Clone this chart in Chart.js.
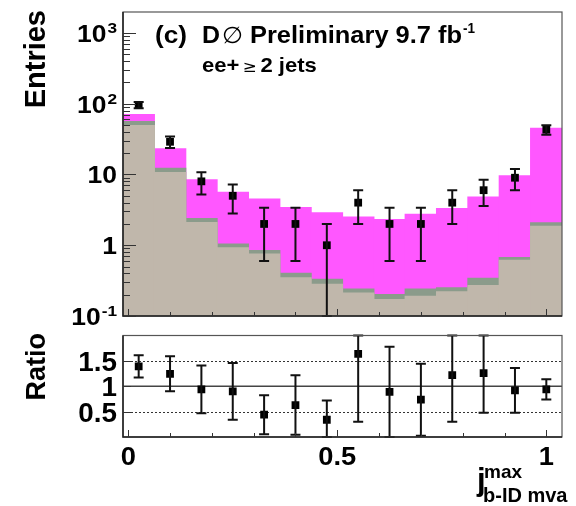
<!DOCTYPE html>
<html>
<head>
<meta charset="utf-8">
<script src="https://cdn.jsdelivr.net/npm/chart.js@4/dist/chart.umd.min.js"></script>
<style>
html, body { margin: 0; padding: 0; background: #fff; }
#wrap { position: relative; width: 576px; height: 506px; }
#topPad { position: absolute; left: 0; top: 0; width: 576px; height: 330px; }
#botPad { position: absolute; left: 0; top: 330px; width: 576px; height: 176px; }
</style>
</head>
<body>
<div id="wrap">
  <div id="topPad"><canvas id="mainChart"></canvas></div>
  <div id="botPad"><canvas id="ratioChart"></canvas></div>
</div>
<script>
// bin centres of j^max_{b-ID mva}, 14 bins of width 0.075
const binCenters = [0.025, 0.1, 0.175, 0.25, 0.325, 0.4, 0.475, 0.55, 0.625, 0.7, 0.775, 0.85, 0.925, 1.0];

// MC stack, entries per bin (beige bottom, grey-green band, magenta signal on top)
const bkgMain  = [49, 10.6, 2.09, 0.92, 0.75, 0.345, 0.28, 0.21, 0.17, 0.19, 0.22, 0.27, 0.61, 1.85];
const bkgOther = [6.7, 1.6, 0.29, 0.12, 0.09, 0.055, 0.05, 0.03, 0.03, 0.05, 0.03, 0.07, 0.06, 0.22];
const signal   = [14.3, 10.8, 6.0, 4.56, 3.66, 3.0, 2.55, 2.26, 2.1, 2.49, 3.05, 4.46, 8.93, 42.9];

// data points and their errors
const dataCounts = [96, 29, 8, 5, 2, 2, 1, 4, 2, 2, 4, 6, 9, 43];
const dataErr    = [9.8, 5.4, 2.8, 2.2, 1.4, 1.4, 1.0, 2.0, 1.4, 1.4, 2.0, 2.4, 3.0, 6.5];

// data / MC ratio
const ratioVals = [1.39, 1.245, 0.94, 0.90, 0.44, 0.63, 0.34, 1.64, 0.89, 0.735, 1.22, 1.26, 0.92, 0.94];
const ratioErr  = [0.22, 0.345, 0.47, 0.56, 0.385, 0.585, 0.38, 1.34, 0.89, 0.71, 0.92, 0.78, 0.44, 0.20];

// axis ticks and labels
const yTickValues = [0.1, 1, 10, 100, 1000];
const yTickLabels = [['10', '-1'], ['1', ''], ['10', ''], ['10', '2'], ['10', '3']];
const xTickValues = [0, 0.5, 1];
const xTickLabels = ['0', '0.5', '1'];
const ratioTickValues = [0.5, 1, 1.5];
const ratioTickLabels = ['0.5', '1', '1.5'];

const X_MIN = -0.0125, X_MAX = 1.0375;
const Y_MIN = 0.1, Y_MAX = 1980;

const colBeige = '#c0b7ab';
const colGreen = '#8b9b8b';
const colMagenta = '#ff57ff';
const FONT = '"Liberation Sans", Arial, Helvetica, sans-serif';

// cumulative stack heights
const stackBeige = bkgMain.slice();
const stackGreen = bkgMain.map((v, i) => v + bkgOther[i]);
const stackTotal = stackGreen.map((v, i) => v + signal[i]);

function toXY(values) {
    return values.map((v, i) => ({ x: binCenters[i], y: v }));
}

// text helpers
function scaledText(ctx, str, x, y, font, align, sx) {
    ctx.save();
    ctx.font = font;
    ctx.textAlign = align;
    ctx.textBaseline = 'alphabetic';
    ctx.translate(x, y);
    ctx.scale(sx, 1);
    ctx.fillText(str, 0, 0);
    ctx.restore();
}

function fitText(ctx, str, x0, x1, y, font) {
    ctx.save();
    ctx.font = font;
    const w = ctx.measureText(str).width;
    ctx.translate(x0, y);
    ctx.scale((x1 - x0) / w, 1);
    ctx.textAlign = 'left';
    ctx.textBaseline = 'alphabetic';
    ctx.fillText(str, 0, 0);
    ctx.restore();
}

// draws pieces one after another, returns the end x
function textRun(ctx, pieces, x, y, sx) {
    pieces.forEach(([str, font, gap]) => {
        ctx.save();
        ctx.font = font;
        const w = ctx.measureText(str).width * sx;
        ctx.restore();
        scaledText(ctx, str, x, y, font, 'left', sx);
        x += w + (gap || 0);
    });
    return x;
}

function powerLabel(ctx, base, exp, xRight, y) {
    const sx = 1.15;
    const fBase = 'bold 23px ' + FONT;
    const fExp = 'bold 15px ' + FONT;
    ctx.save();
    ctx.font = fBase;
    const wb = ctx.measureText(base).width * sx;
    ctx.font = fExp;
    const we = exp ? ctx.measureText(exp).width * sx + 1 : 0;
    ctx.restore();
    const x0 = xRight - wb - we;
    scaledText(ctx, base, x0, y, fBase, 'left', sx);
    if (exp) scaledText(ctx, exp, x0 + wb + 1, y - 9, fExp, 'left', sx);
}

function errorBars(ctx, xScale, yScale, vals, errs, lo, hi, area) {
    ctx.save();
    ctx.strokeStyle = '#111';
    ctx.lineWidth = 2;
    vals.forEach((v, i) => {
        const x = xScale.getPixelForValue(binCenters[i]);
        const yTop = yScale.getPixelForValue(Math.min(v + errs[i], hi));
        const low = v - errs[i];
        const yBot = low <= lo ? area.bottom : yScale.getPixelForValue(low);
        ctx.beginPath();
        ctx.moveTo(x, yTop); ctx.lineTo(x, yBot);
        ctx.moveTo(x - 5, yTop); ctx.lineTo(x + 5, yTop);
        ctx.moveTo(x - 5, yBot); ctx.lineTo(x + 5, yBot);
        ctx.stroke();
    });
    ctx.restore();
}

function xFrameTicks(ctx, xScale, area) {
    ctx.save();
    ctx.strokeStyle = '#333';
    ctx.lineWidth = 1;
    ctx.beginPath();
    for (let k = 0; k <= 10; k++) {
        const x = Math.round(xScale.getPixelForValue(k / 10)) + 0.5;
        const len = (k % 5 === 0) ? 7 : 4;
        ctx.moveTo(x, area.bottom); ctx.lineTo(x, area.bottom - len);
    }
    ctx.stroke();
    ctx.restore();
}

function drawFrame(ctx, area) {
    ctx.save();
    ctx.strokeStyle = '#555';
    ctx.lineWidth = 1.2;
    ctx.strokeRect(area.left, area.top, area.right - area.left, area.bottom - area.top);
    ctx.strokeStyle = '#222';
    ctx.lineWidth = 1.5;
    ctx.beginPath();
    ctx.moveTo(area.left, area.top); ctx.lineTo(area.left, area.bottom); ctx.lineTo(area.right, area.bottom);
    ctx.stroke();
    ctx.restore();
}

// main panel decorations
const mainDecor = {
    id: 'mainDecor',
    afterDatasetsDraw(chart) {
        const { ctx, chartArea: area, scales: { x, y } } = chart;
        errorBars(ctx, x, y, dataCounts, dataErr, Y_MIN, Y_MAX, area);
    },
    afterDraw(chart) {
        const { ctx, chartArea: area, scales: { x, y } } = chart;
        drawFrame(ctx, area);
        xFrameTicks(ctx, x, area);

        // log ticks on the left axis
        ctx.save();
        ctx.strokeStyle = '#333';
        ctx.lineWidth = 1;
        ctx.beginPath();
        for (let d = -1; d <= 3; d++) {
            for (let m = 1; m <= 9; m++) {
                const v = m * Math.pow(10, d);
                if (v > Y_MAX) break;
                const py = Math.round(y.getPixelForValue(v)) + 0.5;
                const len = m === 1 ? 13 : 7;
                ctx.moveTo(area.left, py); ctx.lineTo(area.left + len, py);
            }
        }
        ctx.stroke();
        ctx.restore();

        ctx.fillStyle = '#000';
        yTickValues.forEach((v, i) => {
            const py = y.getPixelForValue(v);
            powerLabel(ctx, yTickLabels[i][0], yTickLabels[i][1], 117, py + 9);
        });

        // axis title
        ctx.save();
        ctx.translate(45, 10);
        ctx.rotate(-Math.PI / 2);
        ctx.font = 'bold 29px ' + FONT;
        ctx.textAlign = 'right';
        ctx.textBaseline = 'alphabetic';
        ctx.fillText('Entries', 0, 0);
        ctx.restore();

        // header text
        fitText(ctx, '(c)', 155, 187, 43, 'bold 23px ' + FONT);
        fitText(ctx, 'D', 202, 220, 43, 'bold 23px ' + FONT);
        fitText(ctx, '\u2205', 222, 243, 43, '23px "DejaVu Sans"');
        fitText(ctx, 'Preliminary 9.7 fb', 250, 462, 43, 'bold 23px ' + FONT);
        fitText(ctx, '-1', 463, 475, 33, 'bold 15px ' + FONT);
        textRun(ctx, [
            ['ee+', 'bold 21px ' + FONT, 3],
            ['\u2265', '16px "DejaVu Sans"', 4],
            ['2 jets', 'bold 21px ' + FONT, 0]
        ], 202, 72, 1.05);
    }
};

// ratio panel decorations
const ratioDecor = {
    id: 'ratioDecor',
    beforeDatasetsDraw(chart) {
        const { ctx, chartArea: area, scales: { y } } = chart;
        ctx.save();
        ctx.strokeStyle = '#333';
        ctx.lineWidth = 1;
        ctx.setLineDash([2, 2]);
        [0.5, 1.5].forEach(v => {
            const py = Math.round(y.getPixelForValue(v)) + 0.5;
            ctx.beginPath(); ctx.moveTo(area.left, py); ctx.lineTo(area.right, py); ctx.stroke();
        });
        ctx.setLineDash([]);
        ctx.strokeStyle = '#444';
        ctx.lineWidth = 1.5;
        const p1 = y.getPixelForValue(1);
        ctx.beginPath(); ctx.moveTo(area.left, p1); ctx.lineTo(area.right, p1); ctx.stroke();
        ctx.restore();
    },
    afterDatasetsDraw(chart) {
        const { ctx, chartArea: area, scales: { x, y } } = chart;
        errorBars(ctx, x, y, ratioVals, ratioErr, 0, 2, area);
    },
    afterDraw(chart) {
        const { ctx, chartArea: area, scales: { x, y } } = chart;
        drawFrame(ctx, area);
        xFrameTicks(ctx, x, area);

        ctx.save();
        ctx.strokeStyle = '#333';
        ctx.lineWidth = 1;
        ctx.beginPath();
        ratioTickValues.forEach(v => {
            const py = Math.round(y.getPixelForValue(v)) + 0.5;
            ctx.moveTo(area.left, py); ctx.lineTo(area.left + 8, py);
        });
        ctx.stroke();
        ctx.restore();

        ctx.fillStyle = '#000';
        ratioTickValues.forEach((v, i) => {
            scaledText(ctx, ratioTickLabels[i], 117, y.getPixelForValue(v) + 10, 'bold 27px ' + FONT, 'right', 1.03);
        });
        xTickValues.forEach((v, i) => {
            scaledText(ctx, xTickLabels[i], x.getPixelForValue(v), 135, 'bold 26px ' + FONT, 'center', 1.05);
        });

        // axis titles
        ctx.save();
        ctx.translate(45, 3);
        ctx.rotate(-Math.PI / 2);
        ctx.font = 'bold 27px ' + FONT;
        ctx.textAlign = 'right';
        ctx.textBaseline = 'alphabetic';
        ctx.fillText('Ratio', 0, 0);
        ctx.restore();

        scaledText(ctx, 'j', 477, 160, 'bold 31px ' + FONT, 'left', 1);
        scaledText(ctx, 'max', 484, 148, 'bold 19px ' + FONT, 'left', 1);
        scaledText(ctx, 'b-ID mva', 483, 172, 'bold 20px ' + FONT, 'left', 1);
    }
};

const commonOpts = {
    responsive: true,
    maintainAspectRatio: false,
    animation: false,
    events: [],
    plugins: { legend: { display: false }, tooltip: { enabled: false } }
};

function histDataset(values, color, order) {
    return {
        type: 'bar',
        data: toXY(values),
        backgroundColor: color,
        borderWidth: 0,
        barPercentage: 1,
        categoryPercentage: 1,
        grouped: false,
        inflateAmount: 0.6,
        order: order
    };
}

new Chart(document.getElementById('mainChart'), {
    type: 'bar',
    data: {
        datasets: [
            {
                type: 'scatter',
                data: toXY(dataCounts),
                pointStyle: 'rect',
                pointRadius: 5.5,
                backgroundColor: '#000',
                borderWidth: 0,
                order: 0
            },
            histDataset(stackBeige, colBeige, 1),
            histDataset(stackGreen, colGreen, 2),
            histDataset(stackTotal, colMagenta, 3)
        ]
    },
    options: {
        ...commonOpts,
        layout: { padding: { left: 123, top: 12, right: 14, bottom: 14 } },
        scales: {
            x: { type: 'linear', min: X_MIN, max: X_MAX, display: false, offset: false },
            y: { type: 'logarithmic', min: Y_MIN, max: Y_MAX, display: false, bounds: 'data' }
        }
    },
    plugins: [mainDecor]
});

new Chart(document.getElementById('ratioChart'), {
    type: 'scatter',
    data: {
        datasets: [{
            data: toXY(ratioVals),
            pointStyle: 'rect',
            pointRadius: 5.5,
            backgroundColor: '#000',
            borderWidth: 0
        }]
    },
    options: {
        ...commonOpts,
        layout: { padding: { left: 123, top: 3, right: 14, bottom: 69 } },
        scales: {
            x: { type: 'linear', min: X_MIN, max: X_MAX, display: false },
            y: { type: 'linear', min: 0, max: 2, display: false }
        }
    },
    plugins: [ratioDecor]
});
</script>
</body>
</html>
